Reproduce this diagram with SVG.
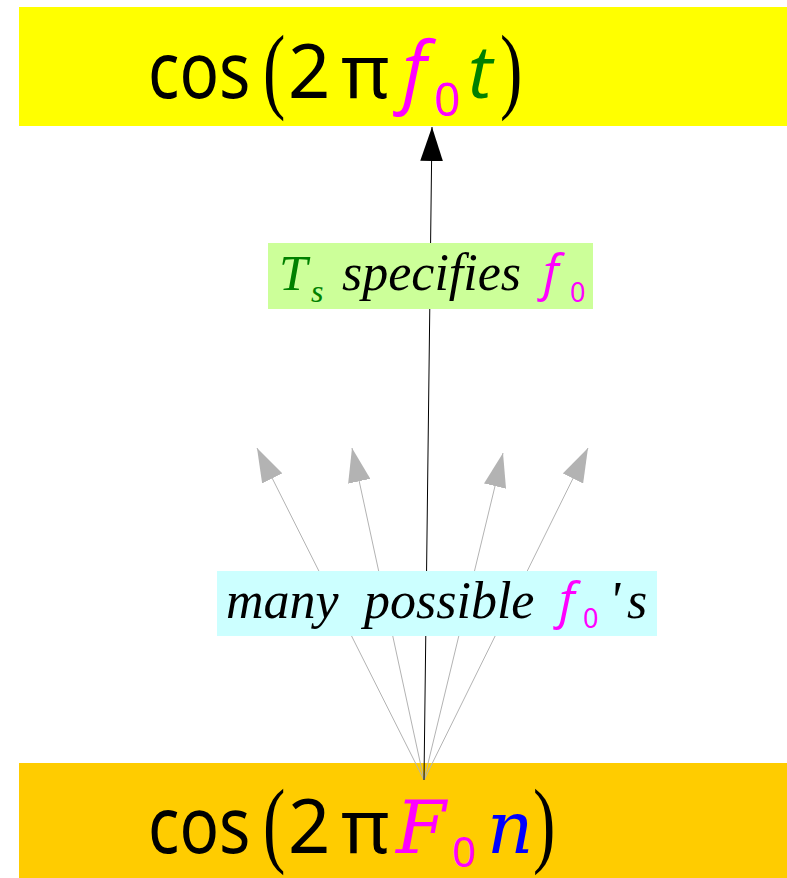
<svg xmlns="http://www.w3.org/2000/svg" width="787" height="878" viewBox="0 0 787 878">
<style>
.m{font-family:"Noto Sans","DejaVu Sans",sans-serif}
.v{font-family:"Open Sans","Noto Sans",sans-serif;font-style:italic}
.vs{font-family:"DejaVu Serif",serif;font-style:italic}
.lab{font-family:"Liberation Serif",serif;font-style:italic}
.par{font-family:"Liberation Serif",serif;font-size:64px}
.gl{stroke:#b3b3b3;stroke-width:1;fill:none;marker-end:url(#ag)}
.bl{stroke:#000;stroke-width:1;fill:none;marker-end:url(#ab)}
</style>
<defs>
<marker id="ag" markerUnits="userSpaceOnUse" markerWidth="34" markerHeight="23" viewBox="0 0 33 22" refX="33" refY="11" orient="auto"><path d="M0,0 L33,11 L0,22 z" fill="#b3b3b3"/></marker>
<marker id="ab" markerUnits="userSpaceOnUse" markerWidth="34" markerHeight="23" viewBox="0 0 33 22" refX="33" refY="11" orient="auto"><path d="M0,0 L33,11 L0,22 z" fill="#000"/></marker>
</defs>
<rect width="787" height="878" fill="#fff"/>
<g id="top">
<rect x="19" y="7" width="768" height="119" fill="#ffff00"/>
<text class="m" font-size="78" transform="translate(148,98) scale(0.84,1)">cos</text>
<text class="par" transform="translate(263,101) scale(1.05,1.5)">(</text>
<text class="m" x="288" y="98" font-size="74">2</text>
<text class="m" x="341" y="98" font-size="74">π</text>
<text class="v" x="402" y="98" font-size="78" fill="#ff00ff">f</text>
<text class="m" x="434" y="116" font-size="46" fill="#ff00ff">0</text>
<text class="v" x="468" y="98" font-size="74" fill="#008000">t</text>
<text class="par" transform="translate(500,101) scale(1.05,1.5)">)</text>
</g>
<g id="bottom">
<rect x="19" y="763" width="768" height="115" fill="#ffcc00"/>
<text class="m" font-size="78" transform="translate(148,853) scale(0.84,1)">cos</text>
<text class="par" transform="translate(263,855) scale(1.05,1.5)">(</text>
<text class="m" x="288" y="853" font-size="74">2</text>
<text class="m" x="341" y="853" font-size="74">π</text>
<text class="vs" x="396" y="853" font-size="72" fill="#ff00ff">F</text>
<text class="m" x="452" y="867" font-size="42" fill="#ff00ff">0</text>
<text class="vs" x="487" y="853" font-size="72" fill="#0000ff">n</text>
<text class="par" transform="translate(533,855) scale(1.05,1.5)">)</text>
</g>
<g id="connectors">
<line class="gl" x1="424" y1="780" x2="257" y2="448"/>
<line class="gl" x1="424" y1="780" x2="352" y2="448"/>
<line class="gl" x1="424" y1="780" x2="503" y2="453"/>
<line class="gl" x1="424" y1="780" x2="588" y2="448"/>
<line class="bl" x1="424" y1="780" x2="432" y2="127"/>
</g>
<g id="label-ts">
<rect x="268" y="243" width="325" height="66" fill="#ccff99"/>
<text class="lab" x="279" y="290" font-size="51" fill="#008000">T</text>
<text class="lab" x="311" y="302" font-size="32" fill="#008000">s</text>
<text class="lab" x="342" y="290" font-size="52">specifies</text>
<text class="v" x="543" y="290" font-size="50" fill="#ff00ff">f</text>
<text class="m" x="570" y="302" font-size="27" fill="#ff00ff">0</text>
</g>
<g id="label-many">
<rect x="217" y="571" width="440" height="65" fill="#ccffff"/>
<text class="lab" x="226" y="618" font-size="52">many</text>
<text class="lab" x="364" y="618" font-size="52">possible</text>
<text class="v" x="559" y="618" font-size="50" fill="#ff00ff">f</text>
<text class="m" x="583" y="628" font-size="27" fill="#ff00ff">0</text>
<text class="lab" x="609" y="618" font-size="52">'</text>
<text class="lab" x="627" y="618" font-size="52">s</text>
</g>
</svg>
